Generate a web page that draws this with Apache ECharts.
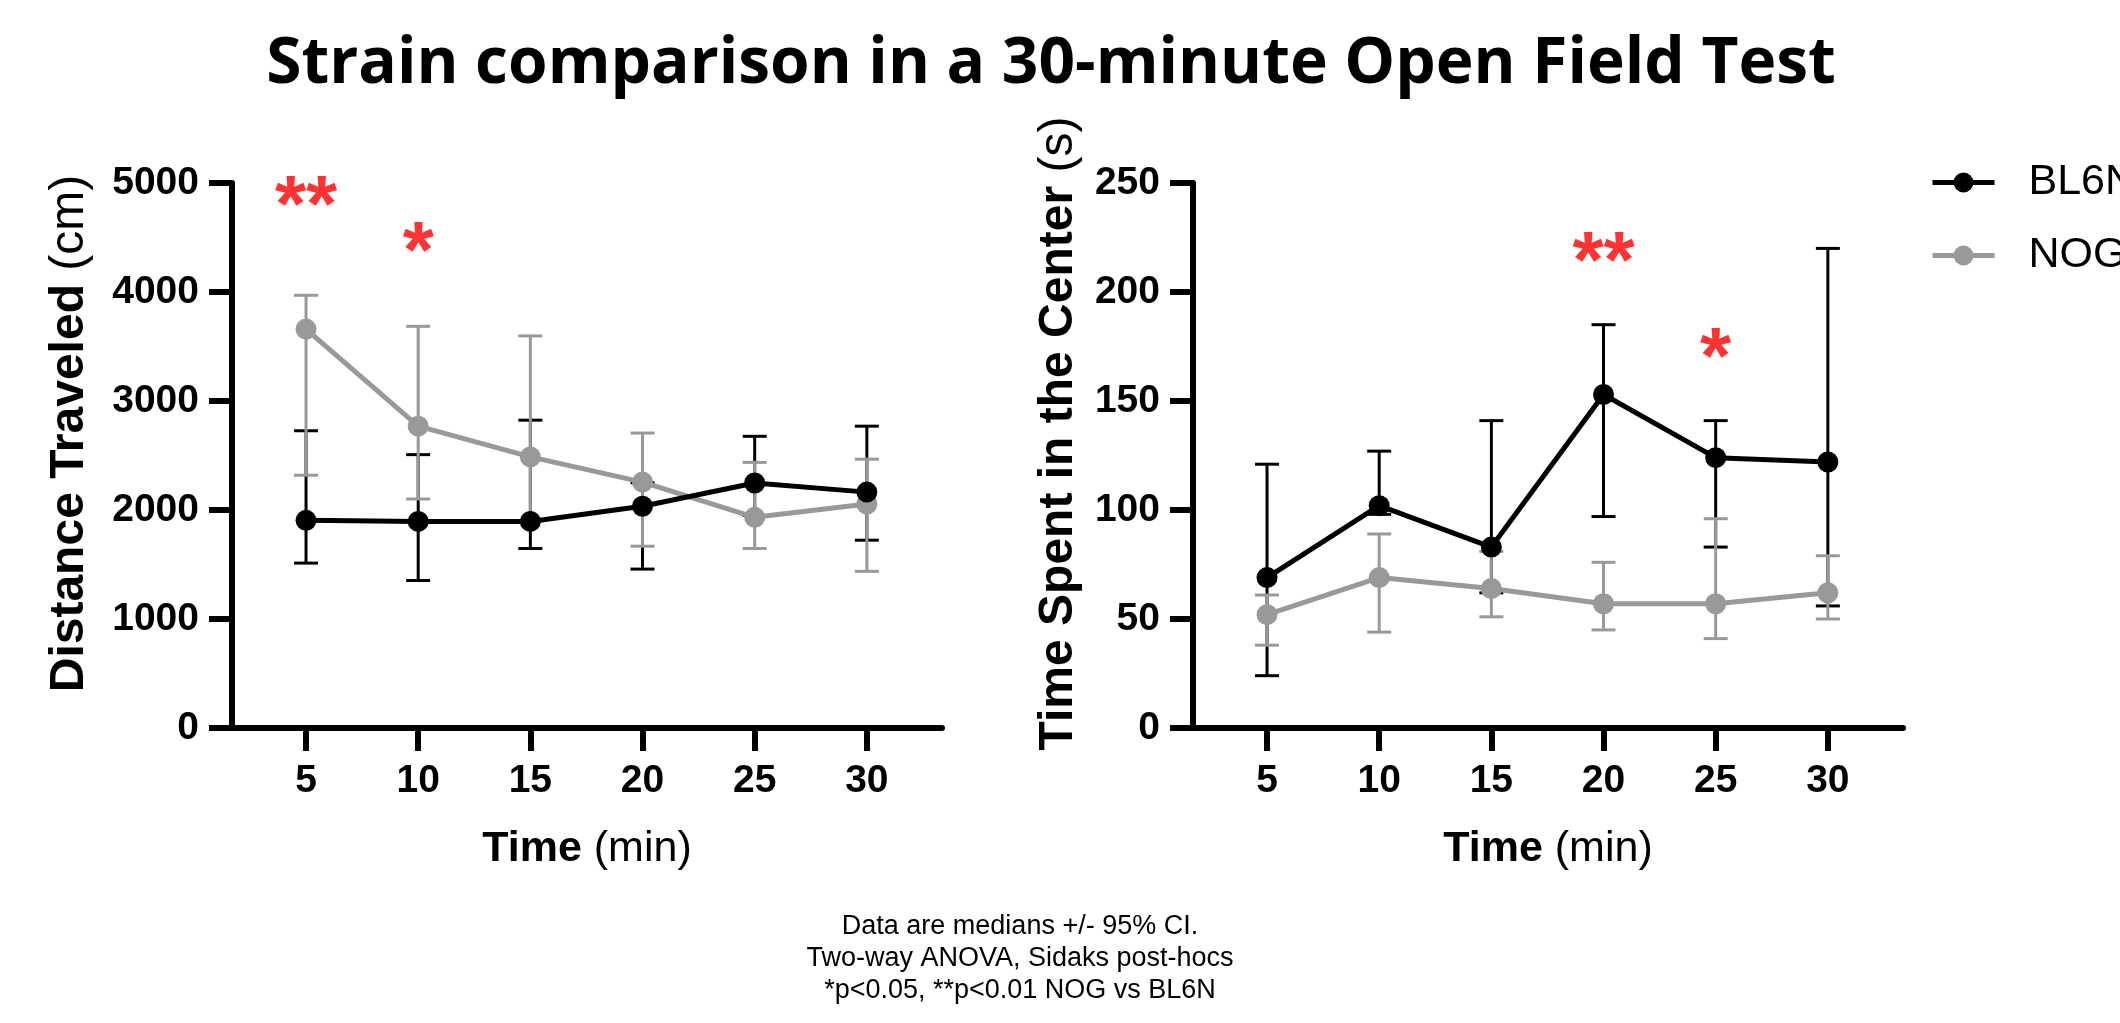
<!DOCTYPE html>
<html lang="en">
    <head>
        <meta charset="UTF-8" />
        <title>Strain comparison in a 30-minute Open Field Test</title>
        <script src="https://cdn.jsdelivr.net/npm/echarts@6/dist/echarts.min.js"></script>
        <style>
            html,
            body {
                margin: 0;
                background: #fff;
            }
            #chart {
                width: 2120px;
                height: 1023px;
            }
        </style>
    </head>
    <body>
        <div id="chart"></div>

        <script>
            // time bins (min)
            var minutes = [5, 10, 15, 20, 25, 30];
            var tickLabels = ['5', '10', '15', '20', '25', '30'];

            // distance traveled (cm): medians and 95% CI
            var distBL6N = [1905, 1895, 1895, 2034, 2248, 2164];
            var distBL6NLow = [1513, 1353, 1647, 1458, 1950, 1723];
            var distBL6NHigh = [2727, 2508, 2824, 2250, 2676, 2769];
            var distNOG = [3660, 2769, 2487, 2256, 1933, 2055];
            var distNOGLow = [2319, 2101, 1900, 1668, 1647, 1437];
            var distNOGHigh = [3970, 3685, 3597, 2706, 2437, 2466];

            // time spent in the center (s)
            var centerBL6N = [69, 102, 83, 153, 124, 122];
            var centerBL6NLow = [24, 98, 62, 97, 83, 56];
            var centerBL6NHigh = [121, 127, 141, 185, 141, 220];
            var centerNOG = [52, 69, 64, 57, 57, 62];
            var centerNOGLow = [38, 44, 51, 45, 41, 50];
            var centerNOGHigh = [61, 89, 81, 76, 96, 79];

            // significance marks: [time, height, text]
            var distStars = [
                [5, 4920, '**'],
                [10, 4500, '*']
            ];
            var centerStars = [
                [20, 220, '**'],
                [25, 176, '*']
            ];

            var BLACK = '#000000';
            var GREY = '#999999';
            var FONT = 'Liberation Sans, Arial, sans-serif';

            var myChart = echarts.init(document.getElementById('chart'));

            function pairs(ys) {
                return minutes.map(function (m, i) {
                    return [m, ys[i]];
                });
            }
            function ranges(lo, hi) {
                return minutes.map(function (m, i) {
                    return [m, lo[i], hi[i]];
                });
            }

            // vertical bar + two caps
            function errorBar(color) {
                return function (params, api) {
                    var x = api.value(0);
                    var lo = api.coord([x, api.value(1)]);
                    var hi = api.coord([x, api.value(2)]);
                    var hw = 12;
                    var st = { stroke: color, lineWidth: 3 };
                    return {
                        type: 'group',
                        children: [
                            { type: 'line', shape: { x1: lo[0], y1: lo[1], x2: hi[0], y2: hi[1] }, style: st },
                            { type: 'line', shape: { x1: lo[0] - hw, y1: lo[1], x2: lo[0] + hw, y2: lo[1] }, style: st },
                            { type: 'line', shape: { x1: hi[0] - hw, y1: hi[1], x2: hi[0] + hw, y2: hi[1] }, style: st }
                        ]
                    };
                };
            }

            function xAxis(idx) {
                return {
                    type: 'value',
                    gridIndex: idx,
                    min: 1.7,
                    max: 33.35,
                    splitLine: { show: false },
                    axisLine: { lineStyle: { color: BLACK, width: 6 } },
                    axisTick: { customValues: minutes, length: 23, lineStyle: { color: BLACK, width: 6 } },
                    axisLabel: {
                        customValues: minutes,
                        formatter: function (v) {
                            return tickLabels[minutes.indexOf(v)];
                        },
                        margin: 34,
                        color: BLACK,
                        fontSize: 39,
                        fontWeight: 'bold',
                        fontFamily: FONT
                    },
                    name: '{b|Time }{n|(min)}',
                    nameLocation: 'middle',
                    nameGap: 100,
                    nameTextStyle: {
                        rich: {
                            b: { fontSize: 43, fontWeight: 'bold', fontFamily: FONT, color: BLACK },
                            n: { fontSize: 43, fontWeight: 'normal', fontFamily: FONT, color: BLACK }
                        }
                    }
                };
            }

            function yAxis(idx, max, interval, bold, normal, gap) {
                return {
                    type: 'value',
                    gridIndex: idx,
                    min: 0,
                    max: max,
                    interval: interval,
                    splitLine: { show: false },
                    axisLine: { show: true, lineStyle: { color: BLACK, width: 6 } },
                    axisTick: { show: true, length: 23, lineStyle: { color: BLACK, width: 6 } },
                    axisLabel: {
                        margin: 33,
                        color: BLACK,
                        fontSize: 39,
                        fontWeight: 'bold',
                        fontFamily: FONT,
                        formatter: function (v) {
                            return String(v);
                        }
                    },
                    name: '{b|' + bold + ' }{n|' + normal + '}',
                    nameLocation: 'middle',
                    nameGap: gap,
                    nameTextStyle: {
                        padding: [0, 0, 0, 44],
                        rich: {
                            b: { fontSize: 48, fontWeight: 'bold', fontFamily: FONT, color: BLACK },
                            n: { fontSize: 48, fontWeight: 'normal', fontFamily: FONT, color: BLACK }
                        }
                    }
                };
            }

            function panelSeries(idx, bl, blLo, blHi, nog, nogLo, nogHi, stars) {
                return [
                    {
                        name: 'BL6N CI',
                        type: 'custom',
                        xAxisIndex: idx,
                        yAxisIndex: idx,
                        renderItem: errorBar(BLACK),
                        encode: { x: 0, y: [1, 2] },
                        data: ranges(blLo, blHi),
                        z: 1
                    },
                    {
                        name: 'NOG CI',
                        type: 'custom',
                        xAxisIndex: idx,
                        yAxisIndex: idx,
                        renderItem: errorBar(GREY),
                        encode: { x: 0, y: [1, 2] },
                        data: ranges(nogLo, nogHi),
                        z: 2
                    },
                    {
                        name: 'NOG',
                        type: 'line',
                        xAxisIndex: idx,
                        yAxisIndex: idx,
                        symbol: 'circle',
                        symbolSize: 21,
                        color: GREY,
                        lineStyle: { width: 5, color: GREY },
                        itemStyle: { color: GREY },
                        data: pairs(nog),
                        z: 3
                    },
                    {
                        name: 'BL6N',
                        type: 'line',
                        xAxisIndex: idx,
                        yAxisIndex: idx,
                        symbol: 'circle',
                        symbolSize: 21,
                        color: BLACK,
                        lineStyle: { width: 5, color: BLACK },
                        itemStyle: { color: BLACK },
                        data: pairs(bl),
                        z: 4
                    },
                    {
                        name: 'stars',
                        type: 'scatter',
                        xAxisIndex: idx,
                        yAxisIndex: idx,
                        symbolSize: 0,
                        silent: true,
                        label: {
                            show: true,
                            position: 'inside',
                            offset: [0, 17],
                            formatter: function (p) {
                                return p.value[2];
                            },
                            color: '#ff0000',
                            fontSize: 80,
                            fontWeight: 'bold',
                            fontFamily: FONT
                        },
                        data: stars,
                        z: 5
                    }
                ];
            }

            var option = {
                backgroundColor: '#ffffff',
                animation: false,
                title: [
                    {
                        text: 'Strain comparison in a 30-minute Open Field Test',
                        left: 1046,
                        textAlign: 'center',
                        top: 28,
                        textStyle: { fontSize: 64, fontWeight: 'bold', fontFamily: 'Open Sans, sans-serif', color: BLACK }
                    },
                    {
                        text: 'Data are medians +/- 95% CI.\nTwo-way ANOVA, Sidaks post-hocs\n*p<0.05, **p<0.01 NOG vs BL6N',
                        left: 1015,
                        textAlign: 'center',
                        top: 906,
                        textStyle: {
                            fontSize: 27,
                            lineHeight: 32,
                            fontWeight: 'normal',
                            fontFamily: FONT,
                            color: BLACK
                        }
                    }
                ],
                legend: {
                    data: ['BL6N', 'NOG'],
                    orient: 'vertical',
                    left: 1925,
                    top: 156,
                    itemWidth: 62,
                    itemHeight: 25,
                    itemGap: 30,
                    lineStyle: { width: 5 },
                    textStyle: { fontSize: 43, fontFamily: FONT, color: BLACK, padding: [0, 0, 0, 29] }
                },
                grid: [
                    { left: 232, top: 183, width: 710, height: 545 },
                    { left: 1193, top: 183, width: 710, height: 545 }
                ],
                xAxis: [xAxis(0), xAxis(1)],
                yAxis: [
                    yAxis(0, 5000, 1000, 'Distance Traveled', '(cm)', 138),
                    yAxis(1, 250, 50, 'Time Spent in the Center', '(s)', 110)
                ],
                series: panelSeries(0, distBL6N, distBL6NLow, distBL6NHigh, distNOG, distNOGLow, distNOGHigh, distStars).concat(
                    panelSeries(1, centerBL6N, centerBL6NLow, centerBL6NHigh, centerNOG, centerNOGLow, centerNOGHigh, centerStars)
                )
            };

            myChart.setOption(option);
        </script>
    </body>
</html>
